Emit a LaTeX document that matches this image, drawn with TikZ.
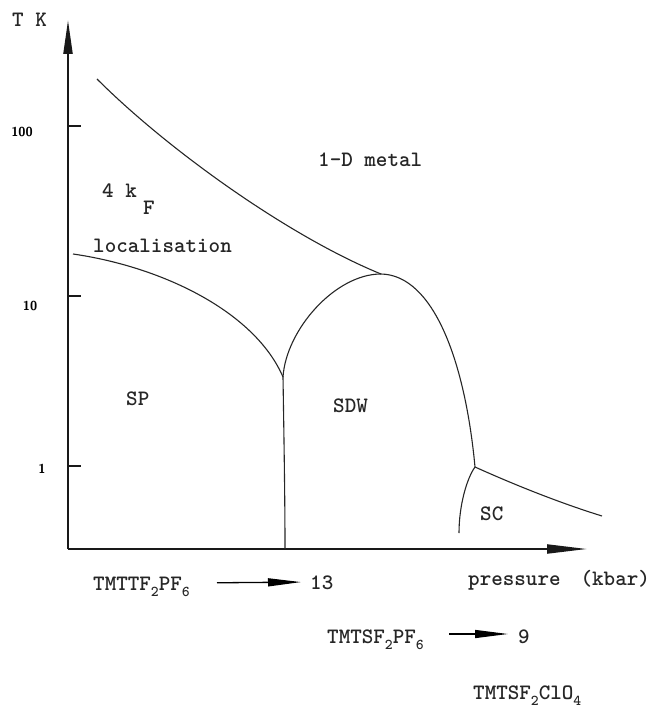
\documentclass[tikz,border=0pt]{standalone}
\usetikzlibrary{arrows.meta}
\newcommand{\csub}[1]{\raisebox{-0.28em}{\fontsize{15}{15}\selectfont #1}}
\begin{document}
\begin{tikzpicture}[x=1pt,y=-1pt,
  curve/.style={line width=1.1pt, black!85},
  axis/.style={line width=2pt, black!90},
  tickmark/.style={line width=1.8pt, black!90},
  lbl/.style={font=\ttfamily\bfseries\fontsize{22}{26}\selectfont, inner sep=0pt, anchor=base west, black!85},
  ticklbl/.style={font=\sffamily\bfseries\fontsize{13}{15}\selectfont, inner sep=0pt},
  sarrow/.style={line width=1.3pt, -{Triangle[length=33pt,width=8pt]}},
]
\useasboundingbox (0,0) rectangle (654,708);

% axes
\coordinate (O) at (68,549);
\coordinate (ytop) at (68,20);
\coordinate (xend) at (587,549);
\draw[axis,-{Triangle[length=34pt,width=9pt]}] (O) -- (ytop);
\draw[axis,-{Triangle[length=40pt,width=9pt]}] (O) -- (xend);

% ticks
\coordinate (t100) at (68,126);
\coordinate (t10) at (68,296);
\coordinate (t1) at (68,466);
\draw[tickmark] (t100) -- ++(13,0);
\draw[tickmark] (t10) -- ++(13,0);
\draw[tickmark] (t1) -- ++(13,0);
\node[ticklbl] (l100) at (22,132) {100};
\node[ticklbl] (l10) at (30,306) {10};
\node[ticklbl] (l1) at (42,469) {1};

% axis labels
\node[lbl] (tk) at (12,27) {T K};
\node[lbl] (press) at (468,585) {pressure\hspace{20pt}(kbar)};

% phase boundaries
\coordinate (c1s) at (97,79);
\coordinate (top) at (381,274);
\coordinate (loc) at (73,254);
\coordinate (cusp) at (283,377);
\coordinate (bot1) at (285,549);
\coordinate (tp) at (475,467);
\coordinate (scb) at (459,533);
\coordinate (sce) at (602,516);
\draw[curve] (c1s) .. controls (167,149) and (288,236) .. (top);
\draw[curve] (loc) .. controls (163,267) and (255,312) .. (cusp);
\draw[curve] (cusp) .. controls (284,440) and (285,500) .. (bot1);
\draw[curve] (cusp) .. controls (286,330) and (335,274) .. (top)
  .. controls (433,275) and (465,360) .. (tp);
\draw[curve] (tp) .. controls (467,478) and (459,505) .. (scb);
\draw[curve] (tp) .. controls (515,485) and (560,503) .. (sce);

% region labels
\node[lbl] (metal) at (318,167) {1–D metal};
\node[lbl] (fourk) at (102,198) {4 k};
\node[lbl] (kf) at (143,215) {F};
\node[lbl] (locl) at (93,252) {localisation};
\node[lbl] (sp) at (126,405) {SP};
\node[lbl] (sdw) at (333,412) {SDW};
\node[lbl] (sc) at (480,520) {SC};

% compounds
\node[lbl] (tmttf) at (93,590) {TMTTF\csub{2}PF\csub{6}};
\node[lbl] (n13) at (310,589) {13};
\node[lbl] (tmtsf) at (327,643) {TMTSF\csub{2}PF\csub{6}};
\node[lbl] (n9) at (518,643) {9};
\node[lbl] (clo) at (473,699) {TMTSF\csub{2}ClO\csub{4}};
\draw[sarrow,shorten <=27pt,shorten >=9pt] ([yshift=7pt]tmttf.base east) -- ([yshift=7pt]n13.base west);
\draw[sarrow,shorten <=25pt,shorten >=10pt] ([yshift=9pt]tmtsf.base east) -- ([yshift=9pt]n9.base west);
\end{tikzpicture}
\end{document}
